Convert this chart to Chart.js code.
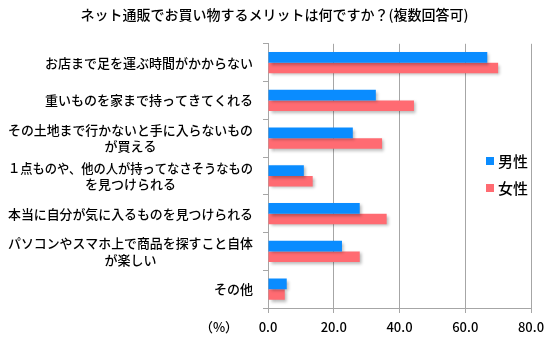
<!DOCTYPE html>
<html>
<head>
<meta charset="utf-8">
<script src="https://cdn.jsdelivr.net/npm/chart.js@4"></script>
<style>
  html, body { margin: 0; padding: 0; background: #fff; }
  #wrap { width: 555px; height: 341px; }
</style>
</head>
<body>
<div id="wrap"><canvas id="chart"></canvas></div>
<script>
  const FONT = '"Noto Sans CJK JP", "Noto Sans", sans-serif';

  // data
  const titleText = 'ネット通販でお買い物するメリットは何ですか？(複数回答可)';
  const categories = [
    ['お店まで足を運ぶ時間がかからない'],
    ['重いものを家まで持ってきてくれる'],
    ['その土地まで行かないと手に入らないもの', 'が買える'],
    ['１点ものや、他の人が持ってなさそうなもの', 'を見つけられる'],
    ['本当に自分が気に入るものを見つけられる'],
    ['パソコンやスマホ上で商品を探すこと自体', 'が楽しい'],
    ['その他'],
  ];
  const seriesNames = ['男性', '女性'];
  const male = [66.7, 32.8, 25.8, 10.9, 27.9, 22.5, 5.7];
  const female = [70.0, 44.4, 34.7, 13.6, 36.1, 27.9, 5.1];
  const xTicks = [0, 20, 40, 60, 80];
  const unitLabel = '（%）';

  const colors = { male: '#0a8cff', female: '#ff6b72', grid: '#a6a6a6', text: '#000' };

  // soft drop shadow under the bars
  const barShadow = {
    id: 'barShadow',
    beforeDatasetsDraw(chart) {
      const ctx = chart.ctx;
      ctx.save();
      ctx.shadowColor = 'rgba(0,0,0,0.28)';
      ctx.shadowOffsetX = 2; ctx.shadowOffsetY = 2; ctx.shadowBlur = 3;
    },
    afterDatasetsDraw(chart) { chart.ctx.restore(); },
  };

  // category labels (multi-line centred like Excel), unit label and legend
  const sideText = {
    id: 'sideText',
    afterDraw(chart) {
      const ctx = chart.ctx, y = chart.scales.y, area = chart.chartArea;
      ctx.save();
      ctx.fillStyle = colors.text;
      ctx.textBaseline = 'middle';
      ctx.textAlign = 'center';
      ctx.font = '500 13px ' + FONT;
      const right = area.left - 15, lh = 16.5, maxW = right - 8;
      categories.forEach((lines, i) => {
        const w = Math.min(maxW, Math.max(...lines.map(l => ctx.measureText(l).width)));
        const cx = right - w / 2;
        const cy = y.getPixelForValue(i);
        lines.forEach((l, k) => ctx.fillText(l, cx, cy + (k - (lines.length - 1) / 2) * lh, maxW));
      });
      ctx.fillText(unitLabel, area.left - 49, area.bottom + 19);

      // legend
      ctx.textAlign = 'left';
      ctx.font = '500 15px ' + FONT;
      [[colors.male, 161], [colors.female, 188]].forEach(([c, ly], k) => {
        ctx.fillStyle = c;
        ctx.fillRect(area.right - 45, ly - 4, 8, 8);
        ctx.fillStyle = colors.text;
        ctx.fillText(seriesNames[k], area.right - 33, ly);
      });
      ctx.restore();
    },
  };

  new Chart(document.getElementById('chart'), {
    type: 'bar',
    data: {
      labels: categories,
      datasets: [
        { label: seriesNames[0], data: male, backgroundColor: colors.male, categoryPercentage: 0.56, barPercentage: 1 },
        { label: seriesNames[1], data: female, backgroundColor: colors.female, categoryPercentage: 0.56, barPercentage: 1 },
      ],
    },
    options: {
      indexAxis: 'y',
      responsive: true, maintainAspectRatio: false, animation: false,
      // left padding keeps the title centred where the original has it
      layout: { padding: { left: 18, right: 24, top: 0, bottom: 0 } },
      plugins: {
        legend: { display: false },
        tooltip: { enabled: false },
        title: {
          display: true, text: titleText, color: colors.text,
          font: { family: FONT, size: 14, weight: '500' },
          padding: { top: 6, bottom: 21 },
        },
      },
      scales: {
        x: {
          min: 0, max: 80,
          afterBuildTicks: s => { s.ticks = xTicks.map(v => ({ value: v })); },
          afterFit: s => { s.height = 33; },
          grid: { color: colors.grid, tickLength: 5, lineWidth: 1 },
          border: { color: colors.grid },
          ticks: { color: colors.text, padding: 6, maxRotation: 0, font: { family: FONT, size: 13, weight: '500' }, callback: v => v.toFixed(1) },
        },
        y: {
          afterFit: s => { s.width = 250; },
          grid: { drawOnChartArea: false, color: colors.grid, tickLength: 5, offset: true },
          border: { color: colors.grid },
          ticks: { display: false },
        },
      },
    },
    plugins: [barShadow, sideText],
  });
</script>
</body>
</html>
